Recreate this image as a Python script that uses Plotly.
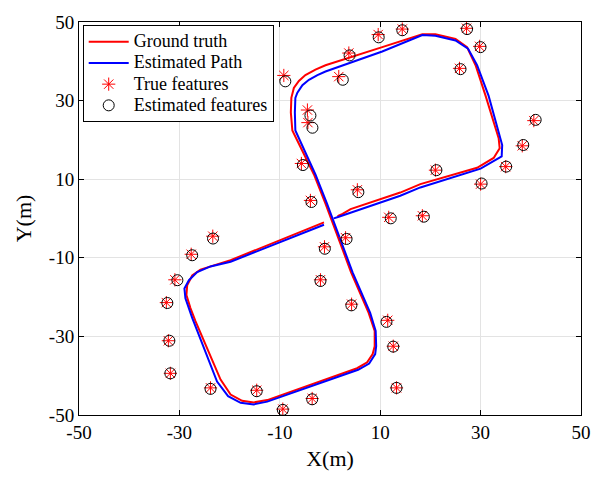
import plotly.graph_objects as go

# Ground-truth trajectory (m)
gt_x = [-1.2, -19.8, -25.8, -27.45, -28.45, -28.6, -27.8, -26.8, -21.8, -19.8, -17.5, -15.2, -12.5,
        5.4, 7.4, 8.5, 8.9, 8.9, 7.7, 4.2, -0.9, -3.2, -7.5, -7.8, -7.7, -7.2, -6.2, -4.9, -2.9, -0.9,
        10.4, 18.4, 21.0, 25.0, 27.3, 29.0, 31.0, 33.6, 33.8, 32.6, 29.3, 18.0, 14.0, 4.1, 2.5, 1.5]
gt_y = [-1.0, -10.6, -13.0, -14.5, -17.0, -19.5, -22.8, -26.1, -41.0, -44.8, -46.4, -46.8, -46.2,
        -38.1, -36.6, -34.5, -32.5, -28.6, -24.0, -13.7, 3.8, 11.2, 22.4, 27.0, 30.7, 33.2, 35.0, 36.5, 37.9, 39.0,
        43.6, 46.9, 46.9, 45.7, 43.6, 39.0, 31.2, 20.4, 17.9, 15.4, 12.9, 8.75, 6.6, 2.4, 1.2, 0.6]

# Estimated trajectory (m)
est_x = [-1.2, -19.8, -23.8, -26.45, -28.1, -29.0, -28.8, -27.45, -22.5, -20.3, -17.8, -15.2, -12.5,
         5.6, 7.8, 9.0, 9.2, 9.1, 8.0, 4.5, -0.6, -2.9, -6.9, -7.0, -6.9, -6.5, -5.5, -4.2, -2.5, -0.9,
         10.4, 18.4, 21.0, 25.0, 27.5, 29.3, 31.6, 34.3, 34.2, 30.0, 18.0, 14.0, 1.75, 0.76]
est_y = [-1.6, -11.0, -12.2, -13.65, -15.7, -17.8, -20.3, -25.3, -41.5, -45.2, -46.9, -47.3, -46.6,
         -38.5, -36.9, -34.5, -32.5, -28.6, -24.0, -13.7, 3.8, 11.2, 22.4, 27.0, 30.7, 32.0, 33.9, 35.3, 36.5, 37.4,
         42.5, 46.7, 46.5, 45.3, 43.2, 39.0, 31.2, 18.7, 15.8, 12.7, 7.9, 5.8, 0.45, 0.04]

# Landmark positions (m)
true_fx = [-9.2, -4.5, -4.4, -5.7, -3.9, 9.6, 14.4, 3.75, 1.75, 27.2, 29.8, 25.8, 40.6, 38.3, 35.0,
           21.0, 30.0, 5.45, 11.7, 18.4, 3.1, -1.1, -1.9, 4.3, 11.5, 12.6, 13.25, -3.55,
           -23.35, -27.65, -30.9, -32.6, -32.2, -31.8, -23.8, -14.6, -9.4]
true_fy = [36.4, 27.6, 24.4, 14.0, 4.6, 46.8, 48.2, 42.1, 36.1, 48.4, 43.8, 38.2, 24.9, 18.5, 13.2,
           12.3, 8.75, 7.3, 0.3, 0.7, -4.9, -7.2, -15.6, -21.8, -25.9, -32.5, -43.1, -45.8,
           -4.5, -9.1, -15.6, -21.4, -31.1, -39.4, -43.1, -43.7, -48.5]
est_fx = [-8.9, -3.9, -3.5, -5.4, -3.7, 9.7, 14.4, 3.9, 2.55, 27.3, 29.98, 26.0, 40.97, 38.5, 35.1,
          21.2, 30.2, 5.65, 12.1, 18.7, 3.3, -1.03, -1.9, 4.26, 11.25, 12.6, 13.25, -3.55,
          -23.3, -27.45, -30.4, -32.4, -32.0, -31.8, -23.8, -14.6, -9.4]
est_fy = [34.9, 26.2, 23.1, 13.6, 4.2, 46.1, 47.9, 41.5, 35.3, 48.2, 43.6, 38.0, 25.1, 18.7, 13.2,
          12.3, 8.9, 6.7, 0.04, 0.46, -5.2, -7.7, -15.9, -22.1, -26.3, -32.6, -43.1, -46.0,
          -5.1, -9.35, -15.7, -21.5, -31.1, -39.4, -43.35, -43.95, -48.7]

tick_vals = [-50, -30, -10, 10, 30, 50]
tick_text = ["-50", "-30", "-10", "10", "30", "50"]

serif = "Liberation Serif"


def legend_label(text):
    # legend rows are spaced by legend.font.size; the label itself is drawn larger
    return f'<span style="font-size:18px">{text}</span>'


fig = go.Figure()
fig.add_trace(go.Scatter(x=gt_x, y=gt_y, mode="lines", name=legend_label("Ground truth"),
                         line=dict(color="#ff0000", width=2)))
fig.add_trace(go.Scatter(x=est_x, y=est_y, mode="lines", name=legend_label("Estimated Path"),
                         line=dict(color="#0000ff", width=2)))
fig.add_trace(go.Scatter(x=true_fx, y=true_fy, mode="markers", name=legend_label("True features"),
                         marker=dict(symbol="asterisk-open", size=11, color="#ff0000",
                                     line=dict(color="#ff0000", width=1))))
fig.add_trace(go.Scatter(x=est_fx, y=est_fy, mode="markers", name=legend_label("Estimated features"),
                         marker=dict(symbol="circle-open", size=11, color="black",
                                     line=dict(color="black", width=1))))

axis_common = dict(
    tickvals=tick_vals, ticktext=tick_text,
    showgrid=True, gridcolor="#e3e3e3", gridwidth=1,
    zeroline=False, showline=True, linecolor="black", linewidth=1,
    mirror="ticks", ticks="inside", ticklen=5, tickcolor="black",
    tickfont=dict(family=serif, size=19, color="black"),
)

fig.update_layout(
    width=603, height=478,
    margin=dict(l=79, r=22, t=14, b=62),
    paper_bgcolor="white", plot_bgcolor="white",
    font=dict(family=serif, color="black"),
    xaxis=dict(range=[-50, 50], title=dict(text="X(m)", font=dict(size=22), standoff=8),
               **axis_common),
    yaxis=dict(range=[-50, 50], title=dict(text="Y(m)", font=dict(size=22), standoff=11),
               **axis_common),
    legend=dict(x=0.0074, y=0.992, xanchor="left", yanchor="top",
                bgcolor="white", bordercolor="black", borderwidth=1,
                font=dict(family=serif, size=14, color="black"),
                itemwidth=40, tracegroupgap=0),
    showlegend=True,
)

fig.write_html("out.html")
